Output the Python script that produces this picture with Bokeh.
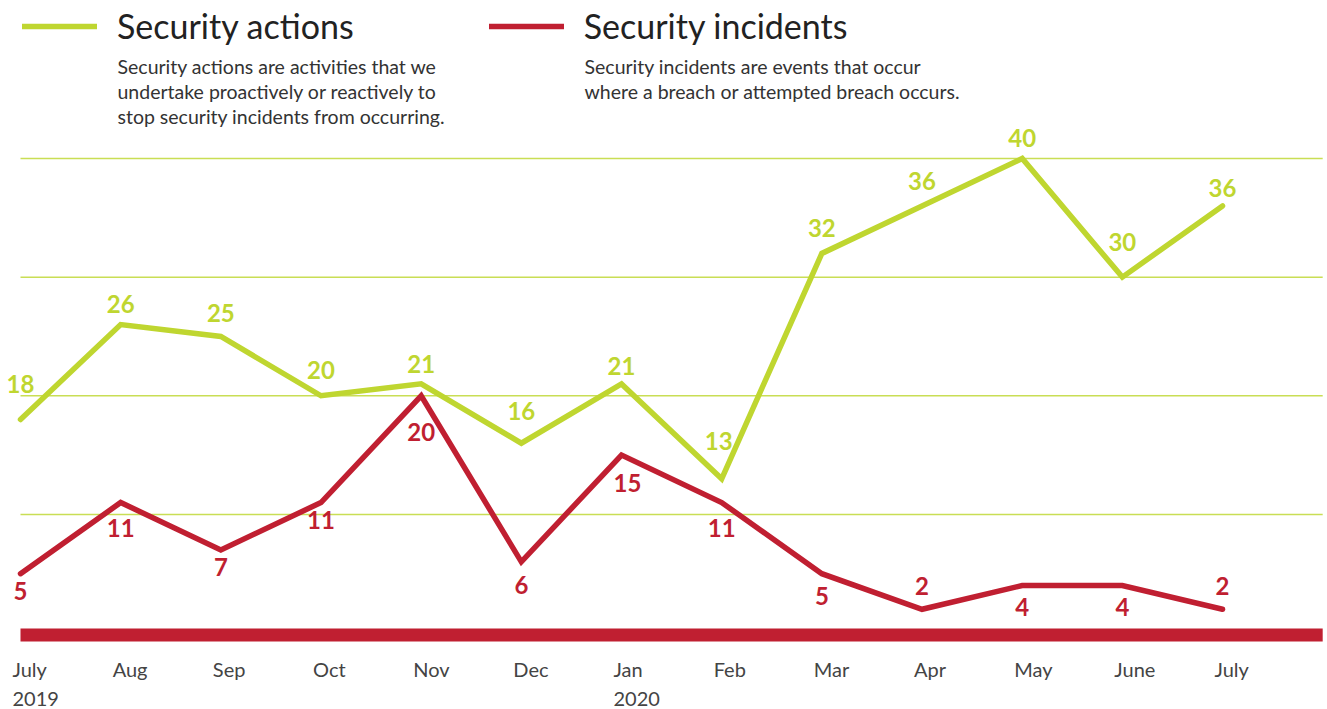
from bokeh.plotting import figure
from bokeh.models import Range1d, Label, Legend, LegendItem, ColumnDataSource
from bokeh.core.properties import value
from bokeh.embed import file_html
from bokeh.resources import INLINE

# ---- data ----
months = ["July", "Aug", "Sep", "Oct", "Nov", "Dec", "Jan", "Feb", "Mar", "Apr", "May", "June", "July"]
years = ["2019", "", "", "", "", "", "2020", "", "", "", "", "", ""]
actions = [18, 26, 25, 20, 21, 16, 21, 13, 32, 36, 40, 30, 36]
incidents = [5, 11, 7, 11, 20, 6, 15, 11, 5, 2, 4, 4, 2]
grid_values = [10, 20, 30, 40]

# ---- styles ----
GREEN = "#bfd630"
RED = "#c01f31"
GRID = "#c9de55"
FONT = "Lato"
act_dy = [-35, -21, -23, -26, -20, -32, -18, -38, -25, -25, -21, -35, -18]
act_dx = [0, 0, 0, 0, 0, 0, 0, -3, 0, 0, 0, 0, 0]
inc_dy = [17, 25, 17, 17, 36, 23, 28, 25, 22, -23, 21, 21, -23]
inc_dx = [0, 0, 0, 0, 0, 0, 6, 0, 0, 0, 0, 0, 0]

xs = list(range(len(months)))
W, H = 1327, 709
X0, X1 = -0.1997, 13.048
X_END = 13.0

p = figure(width=W, height=H, output_backend="svg", toolbar_location=None,
           x_range=Range1d(X0, X1), y_range=Range1d(-6.449, 53.32),
           x_axis_type=None, y_axis_type=None, min_border=0)
p.min_border_left = p.min_border_right = p.min_border_top = p.min_border_bottom = 0
p.grid.visible = False
p.outline_line_color = None

# gridlines
p.segment(x0=[0] * len(grid_values), x1=[X_END] * len(grid_values), y0=grid_values, y1=grid_values,
          line_color=GRID, line_width=1.5)
# baseline bar
p.quad(left=[0], right=[X_END], top=[0.38], bottom=[-0.72], fill_color=RED, line_color=None)

src = ColumnDataSource(dict(x=xs, a=actions, i=incidents,
                            al=[str(v) for v in actions], il=[str(v) for v in incidents],
                            ady=act_dy, adx=act_dx, idy=inc_dy, idx=inc_dx))

g_line = p.line("x", "a", source=src, line_color=GREEN, line_width=5.5, line_join="miter", line_cap="round")
r_line = p.line("x", "i", source=src, line_color=RED, line_width=5.5, line_join="miter", line_cap="round")

p.text("x", "a", text="al", source=src, x_offset="adx", y_offset="ady", text_align="center",
       text_baseline="middle", text_font=value(FONT), text_font_style="bold",
       text_font_size="24px", text_color=GREEN)
p.text("x", "i", text="il", source=src, x_offset="idx", y_offset="idy", text_align="center",
       text_baseline="middle", text_font=value(FONT), text_font_style="bold",
       text_font_size="24px", text_color=RED)

# month / year tick labels
zero = [0] * len(xs)
src2 = ColumnDataSource(dict(x=xs, z=zero, m=months, y=years))
p.text("x", "z", text="m", source=src2, x_offset=-8, y_offset=36.5, text_align="left",
       text_baseline="alphabetic", text_font=value(FONT), text_font_size="20px", text_color="#444444")
p.text("x", "z", text="y", source=src2, x_offset=-8, y_offset=66, text_align="left",
       text_baseline="alphabetic", text_font=value(FONT), text_font_size="20px", text_color="#444444")

legend = Legend(items=[LegendItem(label="Security actions", renderers=[g_line]),
                       LegendItem(label="Security incidents", renderers=[r_line])],
                orientation="horizontal", location=(22, 663), glyph_width=75, glyph_height=40,
                label_height=40, label_standoff=20, spacing=135, padding=0, margin=0,
                border_line_color=None, background_fill_alpha=0,
                label_text_font=FONT, label_text_font_size="34px", label_text_color="#222222")
p.add_layout(legend)

desc_left = ["Security actions are activities that we",
             "undertake proactively or reactively to",
             "stop security incidents from occurring."]
desc_right = ["Security incidents are events that occur",
              "where a breach or attempted breach occurs."]
for k, t in enumerate(desc_left):
    p.add_layout(Label(x=117, y=643.5 - 25 * k, x_units="screen", y_units="screen", text=t,
                       text_font=FONT, text_font_size="19.5px", text_color="#333333",
                       text_baseline="alphabetic"))
for k, t in enumerate(desc_right):
    p.add_layout(Label(x=584, y=643.5 - 25 * k, x_units="screen", y_units="screen", text=t,
                       text_font=FONT, text_font_size="19.5px", text_color="#333333",
                       text_baseline="alphabetic"))

open("out.html", "w").write(file_html(p, INLINE))
